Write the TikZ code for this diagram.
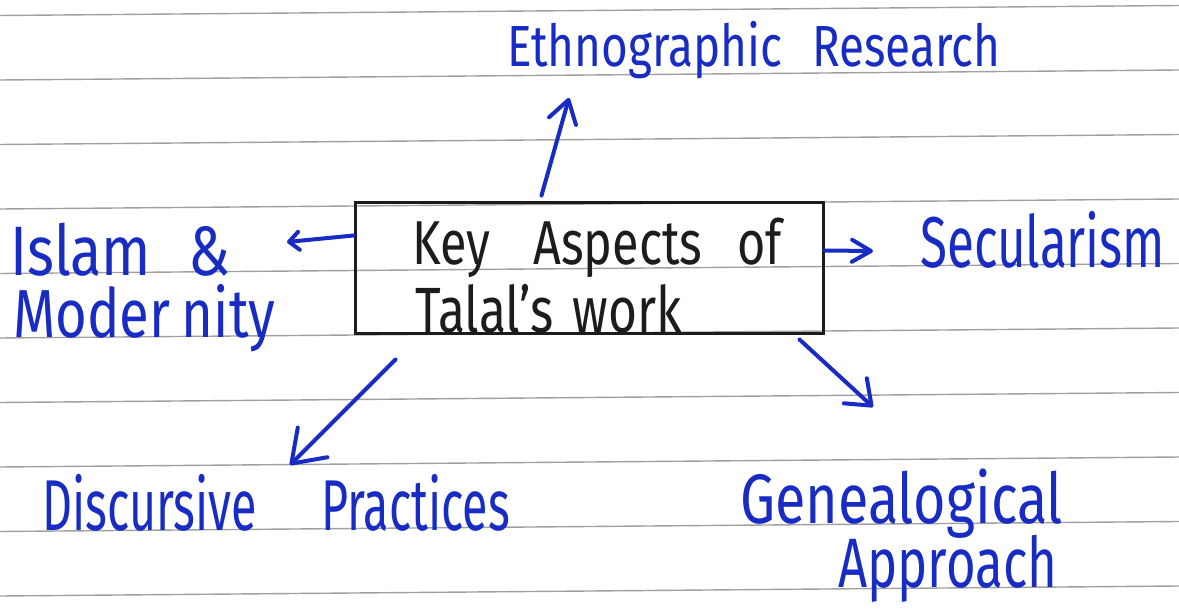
\documentclass[tikz,border=0pt]{standalone}
\usepackage{fontspec}
\setmainfont{Fira Sans}
\usepackage{graphicx}
\usetikzlibrary{arrows.meta}
\definecolor{ink}{RGB}{24,44,196}
\definecolor{pen}{RGB}{28,28,28}
\definecolor{rulegray}{RGB}{160,160,160}
\newcommand{\hw}[2]{\resizebox{#1pt}{\height}{#2}}
\begin{document}
\begin{tikzpicture}[x=1pt,y=-1pt,
  lbl/.style={inner sep=0pt, anchor=base west, text=ink},
  boxtxt/.style={inner sep=0pt, anchor=base west, text=pen},
  conn/.style={draw=ink, line width=4pt, line cap=round, line join=round},
  paperline/.style={draw=rulegray, line width=1.4pt}]
\useasboundingbox (0,0) rectangle (1179,615);
\fill[white] (0,0) rectangle (1179,615);
\foreach \k in {0,...,9} \draw[paperline] (0,{15.5+64.5*\k}) -- (1179,{5.5+64.5*\k});

% central box
\node[draw=pen, line width=3pt, minimum width=468pt, minimum height=130pt, inner sep=0pt] (box) at (589,268) {};
\node[boxtxt, font=\fontsize{62}{64}\selectfont] (key1) at (412,265) {\hw{370}{Key\hspace{55pt}Aspects\hspace{45pt}of}};
\node[boxtxt, font=\fontsize{64}{66}\selectfont] (key2) at (415,332) {\hw{267}{Talal's\hspace{25pt}work}};

% labels
\node[lbl, font=\fontsize{58}{60}\selectfont] (ethno) at (507,67) {\hw{493}{Ethnographic\hspace{38pt}Research}};
\node[lbl, font=\fontsize{70}{72}\selectfont] (islam) at (10,275) {\hw{220}{Islam\hspace{45pt}\&}};
\node[lbl, font=\fontsize{68}{72}\selectfont] (modern) at (13,337) {\hw{262}{Moder\hspace{14pt}nity}};
\node[lbl, font=\fontsize{72}{74}\selectfont] (secular) at (920,268) {\hw{245}{Secularism}};
\node[lbl, font=\fontsize{72}{74}\selectfont] (disc) at (42,530) {\hw{468}{Discursive\hspace{100pt}Practices}};
\node[lbl, font=\fontsize{70}{72}\selectfont] (gene) at (740,523) {\hw{323}{Genealogical}};
\node[lbl, font=\fontsize{70}{72}\selectfont] (appr) at (838,587) {\hw{219}{Approach}};

% arrow tips
\coordinate (tipE) at (569,98);
\coordinate (tipI) at (287,242);
\coordinate (tipS) at (873,251);
\coordinate (tipD) at (290,465);
\coordinate (tipG) at (873,407);

\draw[conn, -{Straight Barb[length=22pt,width=28pt,round]}] ([shift={(188,-6)}]box.north west) -- (tipE);
\draw[conn, -{Straight Barb[length=10pt,width=18pt,round]}] ([shift={(0,34)}]box.north west) -- (tipI);
\draw[conn, -{Straight Barb[length=19pt,width=22pt,round]}] ([shift={(0,49)}]box.north east) -- (tipS);
\draw[conn, -{Straight Barb[length=30pt,width=42pt,round]}] ([shift={(42,25)}]box.south west) -- (tipD);
\draw[conn, -{Straight Barb[length=22pt,width=34pt,round]}] ([shift={(-25,5)}]box.south east) -- (tipG);
\end{tikzpicture}
\end{document}
